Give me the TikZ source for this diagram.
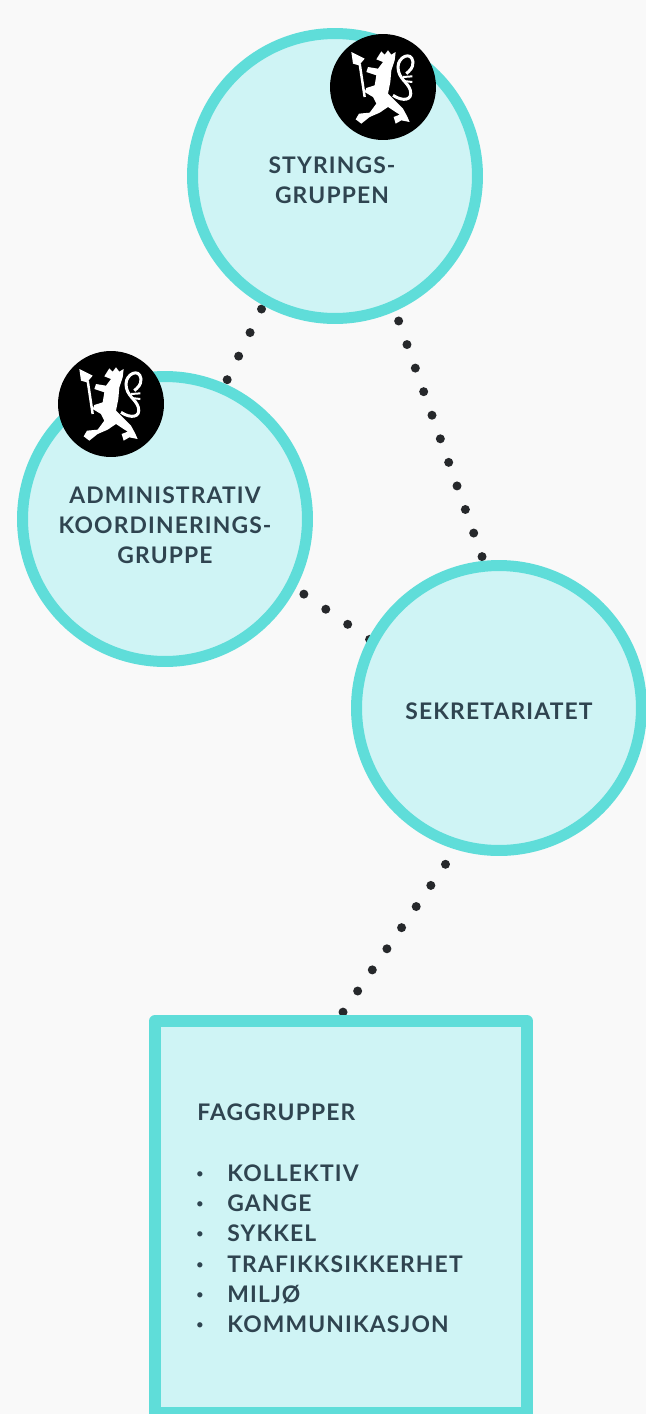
\documentclass[tikz,border=0pt]{standalone}
\usepackage{fontspec}
\setmainfont{Lato}[LetterSpace=5]
\usetikzlibrary{backgrounds}
\definecolor{paper}{HTML}{F9F9F9}
\definecolor{ringcol}{HTML}{5FDDD9}
\definecolor{fillcol}{HTML}{CFF4F5}
\definecolor{inkcol}{HTML}{2F4450}
\definecolor{dotcol}{HTML}{26282B}
\tikzset{
  gruppe/.style={draw=ringcol,fill=fillcol,line width=.22cm,shape=circle,minimum size=5.7cm,inner sep=0pt},
  fagboks/.style={draw=ringcol,fill=fillcol,line width=.24cm,line join=round,shape=rectangle,minimum width=7.44cm,minimum height=7.84cm},
  tekst/.style={text=inkcol,align=center,inner sep=0pt,font=\fontsize{13}{17}\selectfont\bfseries},
  liste/.style={text=inkcol,anchor=base west,inner sep=0pt,font=\fontsize{13}{17}\selectfont\bfseries},
  prikk/.style={text=inkcol,anchor=center,inner sep=0pt,font=\fontsize{8}{8}\selectfont},
  merke/.style={fill=black,shape=circle,minimum size=2.12cm,inner sep=0pt},
  forbindelse/.style={draw=dotcol,line width=.18cm,line cap=round},
  loeve/.pic={
    \fill[white] (-20,-83) -- (-5,-107) -- (5,-97) -- (15,-110) -- (25,-97) -- (38,-105) -- (35,-80) -- (25,-50) -- (22,-15) -- (15,20) -- (32,37) -- (60,65) -- (72,87) -- (80,105) -- (55,100) -- (38,110) -- (32,90) -- (50,83) -- (15,60) -- (-10,77) -- (-40,90) -- (-65,110) -- (-82,97) -- (-72,80) -- (-40,77) -- (-20,50) -- (-30,30) -- (-55,15) -- (-50,3) -- (-25,-5) -- (-20,-35) -- (-50,-45) -- (-45,-60) -- (-15,-55) -- (0,-75) -- cycle;
    \fill[white] (-95,-105) -- (-55,-85) -- (-72,-65) -- (-90,-70) -- cycle;
    \draw[white,line width=.05cm] (-70,-70) -- (-55,30);
    \draw[white,line width=.06cm] (30,25) .. controls (60,45) and (90,40) .. (82,10) .. controls (75,-15) and (45,-25) .. (45,-60) .. controls (45,-90) and (85,-110) .. (90,-75) .. controls (90,-55) and (80,-50) .. (70,-40);
    \draw[white,line width=.04cm] (60,-30) -- (88,-32);
    \draw[white,line width=.04cm] (62,-18) -- (88,-15);
  }
}
\begin{document}
\begin{tikzpicture}[x=.02cm,y=-.02cm]
\useasboundingbox (0,0) rectangle (646,1414);
\node[gruppe] at (335,176) (styr) {};
\node[gruppe] at (165,519) (admin) {};
\node[gruppe] at (499,708) (sekr) {};
\node[fagboks] at (341,1217) (fag) {};
\begin{scope}[on background layer]
\fill[paper] (0,0) rectangle (646,1414);
\draw[forbindelse,dash pattern=on 0pt off .524cm,shorten <=.08cm] (styr.241.6) -- (admin.66.6);
\draw[forbindelse,dash pattern=on 0pt off .5cm,shorten <=.208cm] (styr.294.2) -- (sekr.96.8);
\draw[forbindelse,dash pattern=on 0pt off .532cm,shorten <=.2cm,shorten >=-.1cm] (admin.332.4) -- (sekr.152.6);
\draw[forbindelse,dash pattern=on 0pt off .514cm,shorten <=.36cm] (sekr.253.4) -- (fag.north);
\end{scope}
\node[merke] at (383,87) (merke-styr) {};
\pic[scale=.3333] at (merke-styr) {loeve};
\node[merke] at (111,404) (merke-admin) {};
\pic[scale=.3333] at (merke-admin) {loeve};
\node[tekst] at (332,180) (styr-tekst) {STYRINGS-\\GRUPPEN};
\node[tekst] at (165,525) (admin-tekst) {ADMINISTRATIV\\KOORDINERINGS-\\GRUPPE};
\node[tekst] at (499,711) (sekr-tekst) {SEKRETARIATET};
\node[liste] at (197,1120) (fag-tittel) {FAGGRUPPER};
\node[prikk] at (200,1175) (p1) {•};
\node[prikk] at (200,1205) (p2) {•};
\node[prikk] at (200,1235) (p3) {•};
\node[prikk] at (200,1266) (p4) {•};
\node[prikk] at (200,1296) (p5) {•};
\node[prikk] at (200,1326) (p6) {•};
\node[liste] at (227,1181) (f1) {KOLLEKTIV};
\node[liste] at (227,1211) (f2) {GANGE};
\node[liste] at (227,1241) (f3) {SYKKEL};
\node[liste] at (227,1272) (f4) {TRAFIKKSIKKERHET};
\node[liste] at (227,1302) (f5) {MILJØ};
\node[liste] at (227,1332) (f6) {KOMMUNIKASJON};
\end{tikzpicture}
\end{document}
